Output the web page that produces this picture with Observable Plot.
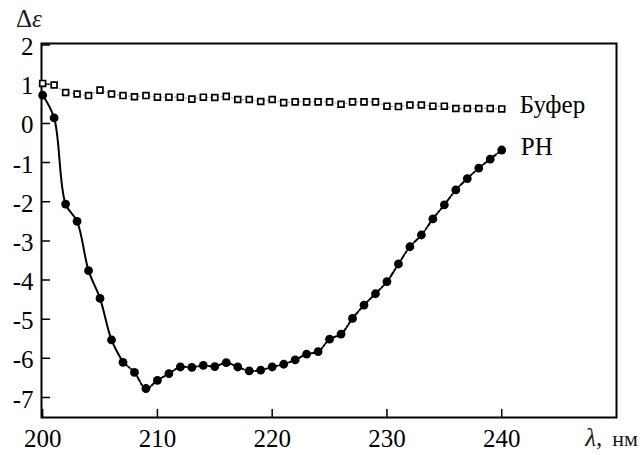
<!DOCTYPE html>
<html>
<head>
<meta charset="utf-8">
<script src="https://cdn.jsdelivr.net/npm/d3@7"></script>
<script src="https://cdn.jsdelivr.net/npm/@observablehq/plot@0.6"></script>
<style>
  html, body { margin: 0; padding: 0; background: #fff; }
  #wrap { position: relative; width: 640px; height: 455px; }
  #chart svg { display: block; }
  .axis-title { position: absolute; font-family: "Liberation Serif", serif; font-size: 25px; line-height: 25px; color: #1a1a1a; white-space: nowrap; margin: 0; }
  #ytitle { left: 16px; top: 6px; }
  #xtitle { right: 2px; top: 425px; }
</style>
</head>
<body>
<div id="wrap">
  <div id="chart"></div>
  <div id="ytitle" class="axis-title"></div>
  <div id="xtitle" class="axis-title"></div>
</div>
<script>
// ---- data ----
const wavelengths = [200, 201, 202, 203, 204, 205, 206, 207, 208, 209,
                     210, 211, 212, 213, 214, 215, 216, 217, 218, 219,
                     220, 221, 222, 223, 224, 225, 226, 227, 228, 229,
                     230, 231, 232, 233, 234, 235, 236, 237, 238, 239, 240];
const bufferValues = [1.02, 0.98, 0.79, 0.75, 0.71, 0.85, 0.75, 0.71, 0.68, 0.71,
                      0.67, 0.67, 0.67, 0.62, 0.67, 0.66, 0.69, 0.61, 0.61, 0.56,
                      0.61, 0.53, 0.55, 0.55, 0.55, 0.55, 0.49, 0.55, 0.55, 0.55,
                      0.44, 0.43, 0.47, 0.47, 0.44, 0.44, 0.38, 0.38, 0.38, 0.38, 0.37];
const rhValues = [0.72, 0.14, -2.06, -2.50, -3.76, -4.47, -5.53, -6.10, -6.36, -6.77,
                  -6.56, -6.39, -6.22, -6.23, -6.18, -6.21, -6.11, -6.22, -6.32, -6.30,
                  -6.22, -6.15, -6.04, -5.89, -5.83, -5.51, -5.38, -4.98, -4.64, -4.35,
                  -4.04, -3.59, -3.15, -2.85, -2.44, -2.08, -1.70, -1.41, -1.14, -0.91, -0.68];
const solidEndWavelength = 207;
const xTicks = [200, 210, 220, 230, 240];
const yTicks = [2, 1, 0, -1, -2, -3, -4, -5, -6, -7];
const seriesLabels = ["Буфер", "РН"];
const yLabelParts = ["Δ", "ε"];
const xLabelParts = ["λ", ",", "нм"];

// ---- derived tables ----
const buffer = wavelengths.map((x, i) => ({x, y: bufferValues[i]}));
const rh = wavelengths.map((x, i) => ({x, y: rhValues[i]}));
const rhSolid = rh.filter(d => d.x <= solidEndWavelength);
const rhDashed = rh.filter(d => d.x >= solidEndWavelength);

const FONT = "Liberation Serif";
const tickLine = {draw(context, l) { context.moveTo(0, 0); context.lineTo(0, -l); }};

const plot = Plot.plot({
  width: 640,
  height: 455,
  marginLeft: 41,
  marginRight: 24,
  marginTop: 43,
  marginBottom: 38,
  style: {fontFamily: FONT, fontSize: "25px"},
  x: {domain: [199.9, 250]},
  y: {domain: [-7.51, 2.04]},
  marks: [
    Plot.axisX({ticks: xTicks, tickSize: 0, tickPadding: 12, label: null, tickFormat: d => String(d)}),
    Plot.axisY({ticks: yTicks, tickSize: 0, tickPadding: 8, label: null, tickFormat: d => String(d), dy: 2}),
    Plot.vector(xTicks, {x: d => d, frameAnchor: "bottom", length: 8, anchor: "start", shape: tickLine, strokeWidth: 1.5}),
    Plot.vector(yTicks, {y: d => d, frameAnchor: "left", length: 8, rotate: 90, anchor: "start", shape: tickLine, strokeWidth: 1.5}),
    Plot.frame({strokeWidth: 2}),
    // buffer
    Plot.line(buffer, {x: "x", y: "y", stroke: "#888", strokeWidth: 1, strokeDasharray: "1.2,2.4"}),
    Plot.dot(buffer, {x: "x", y: "y", symbol: "square", r: 3.3, fill: "white", stroke: "black", strokeWidth: 1.7}),
    // RH
    Plot.line(rhSolid, {x: "x", y: "y", curve: "catmull-rom", strokeWidth: 2}),
    Plot.line(rhDashed, {x: "x", y: "y", curve: "catmull-rom", strokeWidth: 2, strokeDasharray: "5,2,1.5,2"}),
    Plot.dot(rh, {x: "x", y: "y", r: 4.4, fill: "black"}),
    // series labels
    Plot.text(buffer, Plot.selectLast({x: "x", y: "y", text: () => seriesLabels[0], textAnchor: "start", dx: 18, dy: -4})),
    Plot.text(rh, Plot.selectLast({x: "x", y: "y", text: () => seriesLabels[1], textAnchor: "start", dx: 19, dy: -3}))
  ]
});
plot.setAttribute("font-family", FONT);
plot.setAttribute("font-size", "25");
plot.querySelectorAll("text").forEach(t => {
  t.setAttribute("font-family", FONT);
  t.style.fontFamily = FONT;
  t.style.fontSize = "25px";
});
document.getElementById("chart").append(plot);

// axis titles as HTML text, placed like the reference
const yt = document.getElementById("ytitle");
yt.append(yLabelParts[0]);
const eps = document.createElement("span");
eps.style.fontStyle = "italic";
eps.textContent = yLabelParts[1];
yt.append(eps);

const xt = document.getElementById("xtitle");
const lam = document.createElement("span");
lam.style.fontStyle = "italic";
lam.textContent = xLabelParts[0];
xt.append(lam, xLabelParts[1]);
const nm = document.createElement("span");
nm.style.marginLeft = "10px";
nm.style.fontSize = "22px";
nm.textContent = xLabelParts[2];
xt.append(nm);
</script>
</body>
</html>
